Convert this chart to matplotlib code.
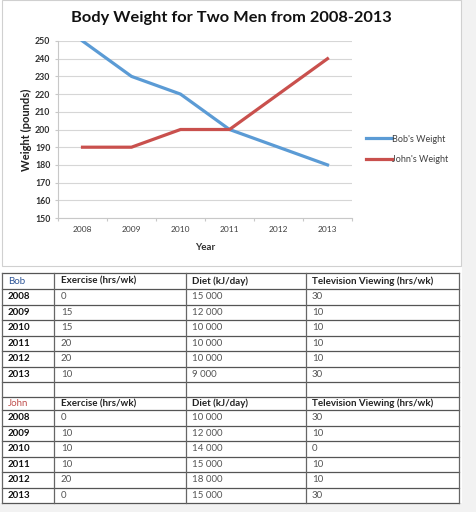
import matplotlib
matplotlib.use("Agg")
import matplotlib.pyplot as plt
from matplotlib.patches import Rectangle
from matplotlib.lines import Line2D

plt.rcParams['font.family'] = ['Lato', 'DejaVu Sans']

# data
years = ['2008', '2009', '2010', '2011', '2012', '2013']
bob_weight = [250, 230, 220, 200, 190, 180]
john_weight = [190, 190, 200, 200, 220, 240]

col_heads = ['Exercise (hrs/wk)', 'Diet (kJ/day)', 'Television Viewing (hrs/wk)']
bob_exercise = ['0', '15', '15', '20', '20', '10']
bob_diet = ['15 000', '12 000', '10 000', '10 000', '10 000', '9 000']
bob_tv = ['30', '10', '10', '10', '10', '30']
john_exercise = ['0', '10', '10', '10', '20', '0']
john_diet = ['10 000', '12 000', '14 000', '15 000', '18 000', '15 000']
john_tv = ['30', '10', '0', '10', '10', '30']

W, H = 476, 512
fig = plt.figure(figsize=(W / 100, H / 100), dpi=100)
fig.patch.set_facecolor('white')

def fx(x):
    return x / W

def fy(y):
    return 1 - y / H

# background strips and chart frame
fig.add_artist(Rectangle((fx(462), 0), fx(14), 1, transform=fig.transFigure,
                         facecolor='#f2f2f2', edgecolor='none', zorder=-5))
fig.add_artist(Rectangle((0, 0), 1, fy(503), transform=fig.transFigure,
                         facecolor='#f2f2f2', edgecolor='none', zorder=-5))
fig.add_artist(Rectangle((fx(2), fy(266)), fx(459), fy(0) - fy(266), transform=fig.transFigure,
                         facecolor='white', edgecolor='#d0d0d0', lw=0.8, zorder=-4))

# chart
ax = fig.add_axes([fx(58), fy(218), fx(352 - 58), fy(41) - fy(218)])
ax.patch.set_alpha(0)
x = range(len(years))
ax.plot(x, bob_weight, color='#5b9bd5', lw=2.3, label="Bob's Weight")
ax.plot(x, john_weight, color='#c9504d', lw=2.3, label="John's Weight")
ax.set_xlim(-0.5, len(years) - 0.5)
ax.set_ylim(150, 250)
ax.set_yticks(range(150, 251, 10))
ax.yaxis.grid(True, color='#d6d6d6', lw=0.8)
ax.set_axisbelow(True)
for s in ['top', 'right']:
    ax.spines[s].set_visible(False)
for s in ['left', 'bottom']:
    ax.spines[s].set_color('#c8c8c8')
    ax.spines[s].set_linewidth(0.8)
ax.set_xticks([i - 0.5 for i in range(len(years) + 1)])
ax.set_xticklabels([])
ax.set_xticks(list(x), minor=True)
ax.set_xticklabels(years, minor=True, fontsize=6, color='#404040')
ax.tick_params(axis='x', which='major', length=2.5, color='#c8c8c8', direction='out')
ax.tick_params(axis='x', which='minor', length=0, pad=6)
ax.tick_params(axis='y', length=2.5, color='#c8c8c8', pad=3)
for t in ax.get_yticklabels():
    t.set_fontsize(6.3)
    t.set_fontweight('bold')
    t.set_color('#303030')
ax.set_xlabel('Year', fontsize=7, fontweight='bold', color='#303030', labelpad=7)
ax.set_ylabel('Weight (pounds)', fontsize=8, fontweight='bold', color='#202020', labelpad=2.5)
ax.legend(loc='center left', bbox_to_anchor=((366 - 58) / 294, (218 - 149.5) / 177),
          frameon=False, fontsize=6.5, handlelength=2.9, handletextpad=0.0,
          labelspacing=1.3, borderaxespad=0, borderpad=0, labelcolor='#404040')
fig.text(fx(231), fy(18), 'Body Weight for Two Men from 2008-2013', ha='center', va='center',
         fontsize=11.8, fontweight='bold', color='#111111')

# tables
cols = [2, 54, 186, 306, 459]
text_x = [8, 61, 192, 312]
fs = 7

def hline(y, lw=0.9, c='#555555'):
    fig.add_artist(Line2D([fx(cols[0]), fx(cols[-1])], [fy(y), fy(y)], color=c, lw=lw))

def vlines(y0, y1):
    for cx in cols:
        fig.add_artist(Line2D([fx(cx), fx(cx)], [fy(y0), fy(y1)], color='#666666', lw=0.9))

def draw_block(top, head_h, row_h, name, name_color, ex, diet, tv):
    rows = [top, top + head_h] + [top + head_h + row_h * (i + 1) for i in range(len(years))]
    for r in rows:
        hline(r)
    mid = (rows[0] + rows[1]) / 2
    fig.text(fx(text_x[0]), fy(mid), name, fontsize=fs, color=name_color, va='center')
    for j, h in enumerate(col_heads):
        fig.text(fx(text_x[j + 1]), fy(mid), h, fontsize=fs, fontweight='bold', color='#222222', va='center')
    for i, yr in enumerate(years):
        m = (rows[i + 1] + rows[i + 2]) / 2
        fig.text(fx(text_x[0]), fy(m), yr, fontsize=fs, fontweight='bold', color='#111111', va='center')
        for j, v in enumerate([ex[i], diet[i], tv[i]]):
            fig.text(fx(text_x[j + 1]), fy(m), v, fontsize=fs, color='#555555', va='center')
    return rows[-1]

draw_block(273, 16, 15.5, 'Bob', '#2e5597', bob_exercise, bob_diet, bob_tv)
hline(397, lw=0.6, c='#999999')
j_end = draw_block(397, 13, 15.5, 'John', '#c0504d', john_exercise, john_diet, john_tv)
vlines(273, j_end)

fig.savefig('out.png', dpi=100, facecolor=fig.get_facecolor())
